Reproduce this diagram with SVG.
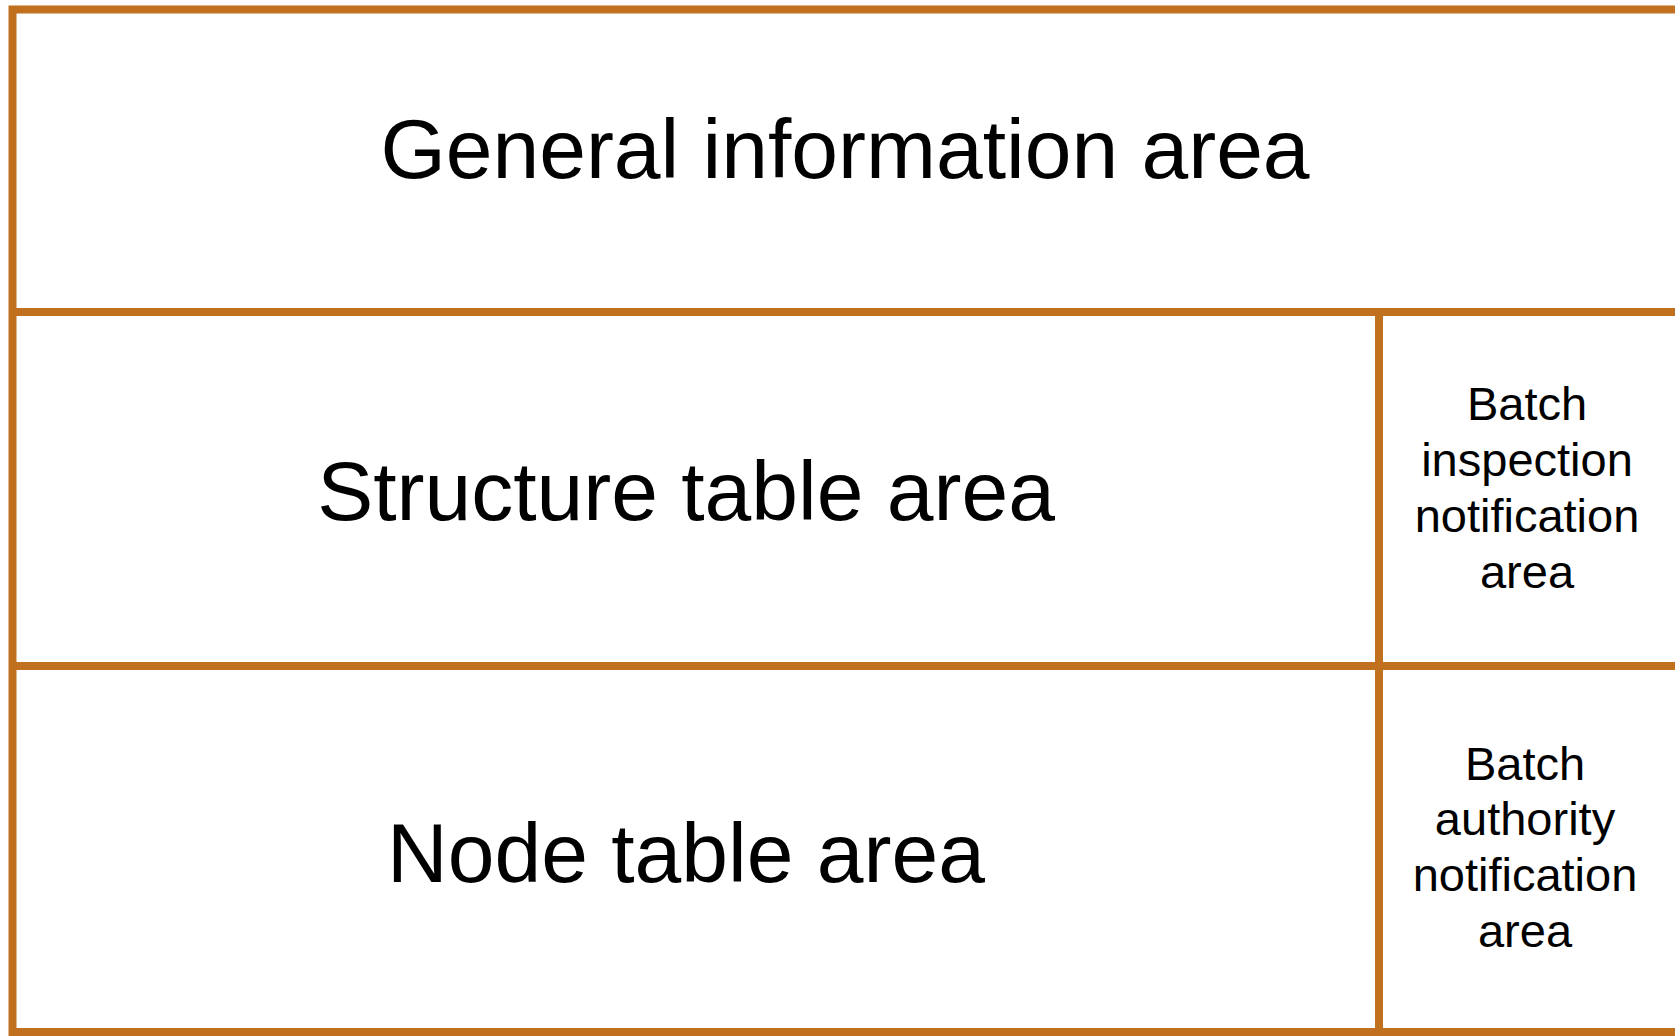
<svg xmlns="http://www.w3.org/2000/svg" width="1675" height="1036" viewBox="0 0 1675 1036">
<style>
.ln{stroke:#C0701E;stroke-width:8;fill:none}
.big{font-family:"Liberation Sans",Arial,sans-serif;font-size:84px;fill:#000;text-anchor:middle}
.sm{font-family:"Liberation Sans",Arial,sans-serif;font-size:47px;fill:#000;text-anchor:middle}
</style>
<rect width="1675" height="1036" fill="#fff"/>
<g id="frame">
<path class="ln" d="M1680 9.5H12.5V1032H1680"/>
<line class="ln" x1="12.5" y1="312" x2="1680" y2="312"/>
<line class="ln" x1="12.5" y1="666" x2="1680" y2="666"/>
<line class="ln" x1="1379" y1="312" x2="1379" y2="1032"/>
</g>
<g id="general"><text class="big" x="845" y="178">General information area</text></g>
<g id="structure"><text class="big" x="686" y="520">Structure table area</text></g>
<g id="node"><text class="big" x="686" y="882">Node table area</text></g>
<g id="inspection"><text class="sm" x="1527" y="420"><tspan x="1527" y="420">Batch</tspan><tspan x="1527" y="476">inspection</tspan><tspan x="1527" y="532">notification</tspan><tspan x="1527" y="588">area</tspan></text></g>
<g id="authority"><text class="sm" x="1525" y="780"><tspan x="1525" y="780">Batch</tspan><tspan x="1525" y="835">authority</tspan><tspan x="1525" y="891">notification</tspan><tspan x="1525" y="947">area</tspan></text></g>
</svg>
